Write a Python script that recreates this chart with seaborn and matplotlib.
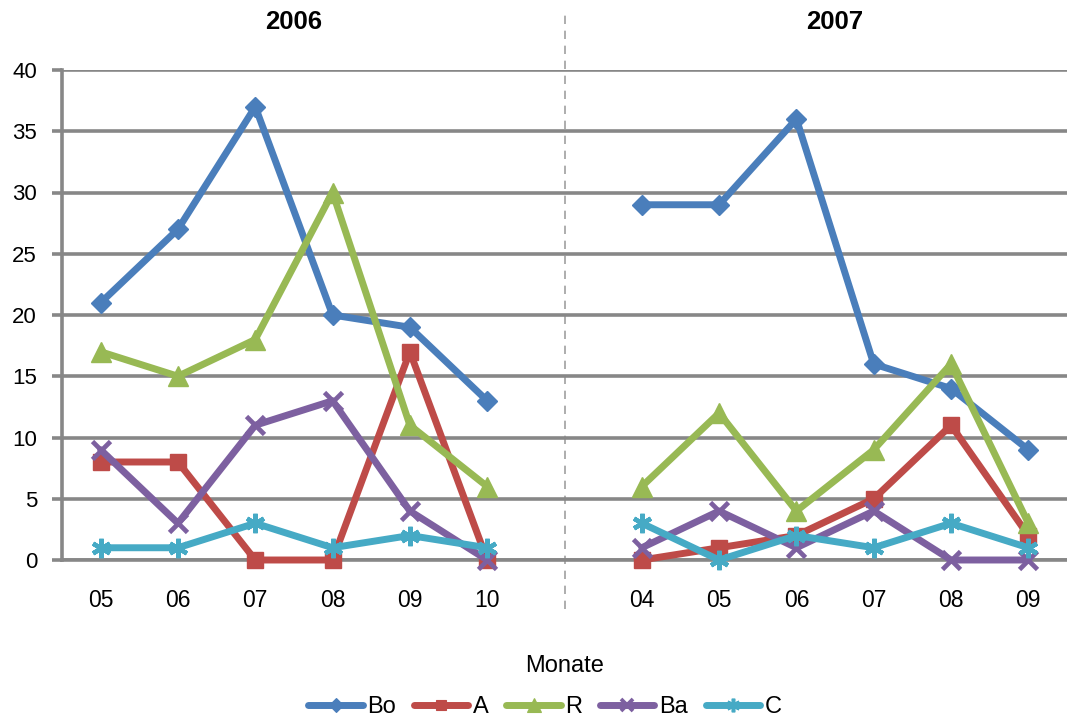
import matplotlib
matplotlib.use("Agg")
import matplotlib.pyplot as plt
import seaborn as sns
import pandas as pd
from matplotlib.lines import Line2D

years = ["2006", "2007"]
months_2006 = ["05", "06", "07", "08", "09", "10"]
months_2007 = ["04", "05", "06", "07", "08", "09"]
series = ["Bo", "A", "R", "Ba", "C"]

bo_2006 = [21, 27, 37, 20, 19, 13]
bo_2007 = [29, 29, 36, 16, 14, 9]
a_2006 = [8, 8, 0, 0, 17, 0]
a_2007 = [0, 1, 2, 5, 11, 2]
r_2006 = [17, 15, 18, 30, 11, 6]
r_2007 = [6, 12, 4, 9, 16, 3]
ba_2006 = [9, 3, 11, 13, 4, 0]
ba_2007 = [1, 4, 1, 4, 0, 0]
c_2006 = [1, 1, 3, 1, 2, 1]
c_2007 = [3, 0, 2, 1, 3, 1]

values = {
    "Bo": (bo_2006, bo_2007),
    "A": (a_2006, a_2007),
    "R": (r_2006, r_2007),
    "Ba": (ba_2006, ba_2007),
    "C": (c_2006, c_2007),
}

colors = {"Bo": "#4A7EBB", "A": "#BE4B48", "R": "#98B954", "Ba": "#7D60A0", "C": "#46AAC5"}
markers = {"Bo": "D", "A": "s", "R": "^", "Ba": "x", "C": (6, 2, 0)}
msizes = {"Bo": 10, "A": 11, "R": 15, "Ba": 13, "C": 14}
mew = {"Bo": 1, "A": 1, "R": 1, "Ba": 3.4, "C": 3.2}
LW = 5.0

# long table; slots: 2006 -> 0..5, gap at 6, 2007 -> 7..12
rows = []
for s in series:
    v06, v07 = values[s]
    for i, v in enumerate(v06):
        rows.append({"series": s, "year": "2006", "pos": i, "value": v})
    for i, v in enumerate(v07):
        rows.append({"series": s, "year": "2007", "pos": 7 + i, "value": v})
df = pd.DataFrame(rows)

sns.set_theme(style="white")
plt.rcParams["font.family"] = ["Liberation Sans", "DejaVu Sans"]
plt.rcParams["text.color"] = "black"
plt.rcParams["axes.labelcolor"] = "black"

fig = plt.figure(figsize=(10.67, 7.2), dpi=100)
ax = fig.add_axes([62 / 1067, 1 - 560 / 720, 1 - 62 / 1067, 490 / 720])

grid_c = "#878787"
for yv in range(0, 45, 5):
    ax.axhline(yv, color=grid_c, lw=2.6, zorder=1)

for s in series:
    sub = df[df.series == s]
    for yr in years:
        d = sub[sub.year == yr]
        sns.lineplot(data=d, x="pos", y="value", ax=ax, color=colors[s],
                     marker=markers[s], markersize=msizes[s], markeredgecolor=colors[s],
                     markeredgewidth=mew[s], linewidth=LW, legend=False, zorder=3,
                     clip_on=False, solid_joinstyle="round", solid_capstyle="round")

ax.set_xlim(-0.5, 12.5)
ax.set_ylim(0, 40)
ax.set_yticks(range(0, 45, 5))
ax.set_yticklabels([str(v) for v in range(0, 45, 5)], fontsize=16)
ax.set_xticks(list(range(0, 6)) + list(range(7, 13)))
ax.set_xticklabels(months_2006 + months_2007, fontsize=16.5)
ax.set_xticks([i - 0.5 for i in range(14)], minor=True)
ax.tick_params(axis="x", which="major", length=0, pad=21, labelcolor="black")
ax.tick_params(axis="x", which="minor", length=6, width=2.2, color=grid_c, direction="out")
ax.tick_params(axis="y", length=7, width=2.6, color=grid_c, direction="out", pad=11,
               left=True, labelcolor="black")
ax.set_xlabel("Monate", fontsize=17, labelpad=31)
ax.set_ylabel("")

for sp in ["top", "right"]:
    ax.spines[sp].set_visible(False)
ax.spines["left"].set_color(grid_c)
ax.spines["left"].set_linewidth(2.6)
ax.spines["bottom"].set_color(grid_c)
ax.spines["bottom"].set_linewidth(2.6)

# separator between years
ax.plot([6, 6], [-0.1, 1.122], transform=ax.get_xaxis_transform(), color="#A0A0A0",
        lw=1.2, ls=(0, (5, 4)), clip_on=False, zorder=0)

ax.text(2.5, 1.098, years[0], transform=ax.get_xaxis_transform(), ha="center", va="center",
        fontsize=18.5, fontweight="bold")
ax.text(9.5, 1.098, years[1], transform=ax.get_xaxis_transform(), ha="center", va="center",
        fontsize=18.5, fontweight="bold")

handles = [Line2D([0], [0], color=colors[s], lw=LW, marker=markers[s],
                  markersize=msizes[s] * 0.7, markeredgecolor=colors[s],
                  markeredgewidth=mew[s] * 0.8, solid_capstyle="round")
           for s in series]
fig.legend(handles, series, loc="center", bbox_to_anchor=(545 / 1067, 1 - 707 / 720), ncol=5,
           frameon=False, fontsize=17, handlelength=2.3, columnspacing=0.75,
           handletextpad=0.2, borderaxespad=0, borderpad=0)

fig.savefig("out.png", dpi=100)
